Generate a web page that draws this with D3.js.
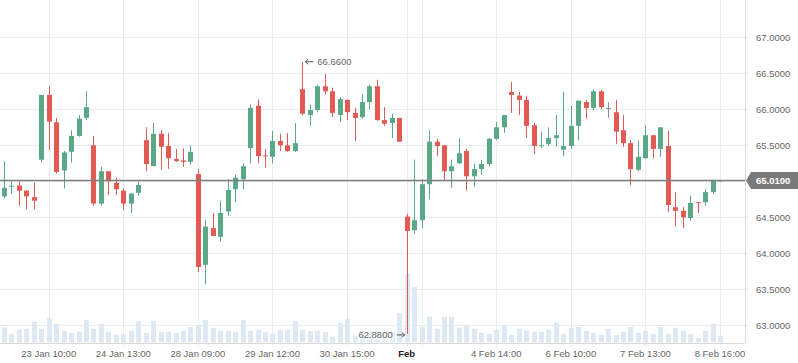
<!DOCTYPE html>
<html><head><meta charset="utf-8">
<script src="https://cdn.jsdelivr.net/npm/d3@7"></script>
<style>html,body{margin:0;padding:0;background:#fff;}svg{display:block;}</style>
</head><body><svg id="c" width="798" height="363"></svg>
<script>
const open  = [64.79,64.93,64.94,64.87,64.78,65.30,66.20,65.82,65.15,65.41,65.63,65.88,65.50,64.69,65.14,64.98,64.87,64.69,64.84,65.57,65.21,65.66,65.49,65.31,65.29,65.27,65.10,63.84,64.35,64.23,64.58,64.89,65.03,65.46,66.05,65.36,65.34,65.56,65.50,65.42,66.28,65.92,65.99,66.32,66.25,65.92,66.13,65.95,65.89,66.10,66.32,65.85,65.81,65.88,64.51,64.32,64.46,64.96,65.55,65.50,65.14,65.25,65.42,65.07,65.17,65.24,65.59,65.75,66.24,66.19,66.13,65.78,65.49,65.52,65.60,65.44,65.49,65.77,66.10,66.02,66.25,66.02,65.96,65.71,65.53,65.16,65.32,65.64,65.45,65.49,64.64,64.59,64.49,64.71,64.71,64.85,65.01];
const high  = [65.28,65.00,65.00,64.88,64.98,66.20,66.32,65.88,65.42,65.71,65.92,66.25,65.63,65.20,65.14,65.05,64.90,64.83,65.00,65.75,65.81,65.71,65.67,65.45,65.46,65.50,65.17,64.46,64.56,64.73,65.03,65.09,65.25,66.07,66.14,65.45,65.70,65.66,65.67,65.81,66.66,66.06,66.34,66.49,66.30,66.17,66.14,66.02,66.21,66.34,66.41,66.03,65.94,65.88,64.55,65.30,65.03,65.71,65.59,65.50,65.30,65.60,65.45,65.25,65.30,65.60,65.82,65.92,66.38,66.24,66.19,65.81,65.69,65.75,65.92,66.24,66.05,66.12,66.13,66.28,66.27,66.10,66.13,65.92,65.57,65.57,65.78,65.64,65.75,65.70,64.85,64.64,64.80,64.71,64.89,65.02,65.01];
const low   = [64.76,64.82,64.66,64.61,64.61,65.26,65.43,65.11,64.90,65.26,65.62,65.85,64.66,64.66,64.81,64.81,64.60,64.56,64.80,65.14,65.21,65.16,65.17,65.27,65.20,65.23,63.74,63.57,64.24,64.17,64.52,64.71,64.89,65.25,65.25,65.19,65.25,65.42,65.41,65.41,65.92,65.77,65.96,66.21,65.89,65.82,65.85,65.56,65.87,66.00,65.84,65.77,65.60,65.55,62.88,64.27,64.35,64.75,65.35,65.02,64.91,65.24,64.87,64.92,65.09,65.21,65.57,65.67,65.95,65.92,65.60,65.38,65.46,65.49,65.48,65.35,65.45,65.57,65.87,65.99,66.00,65.88,65.52,65.48,64.95,65.14,65.32,65.32,65.34,64.57,64.37,64.35,64.45,64.56,64.66,64.82,65.01];
const close = [64.91,64.94,64.87,64.79,64.73,66.20,65.83,65.13,65.40,65.63,65.87,66.03,64.69,65.14,65.00,64.89,64.69,64.83,64.95,65.24,65.66,65.48,65.32,65.28,65.27,65.41,63.81,64.37,64.24,64.56,64.88,65.05,65.21,66.02,65.35,65.35,65.56,65.50,65.42,65.53,65.94,65.99,66.32,66.25,65.95,66.14,65.96,65.88,66.10,66.32,65.85,65.80,65.88,65.55,64.31,64.46,64.96,65.55,65.49,65.14,65.21,65.39,65.07,65.17,65.24,65.59,65.75,65.92,66.20,66.13,65.77,65.49,65.50,65.60,65.64,65.49,65.77,66.12,66.02,66.25,66.03,66.02,65.69,65.53,65.17,65.34,65.64,65.45,65.75,64.67,64.59,64.50,64.70,64.70,64.85,65.02,65.01];
const volume = [1500,870,1270,1370,2070,1370,2470,1870,1170,970,1070,2270,1370,1870,1070,770,870,1170,2170,970,2170,1070,1070,970,1170,1570,1770,2270,1470,1170,1170,1070,2270,1170,1270,1070,870,1270,1270,2170,1270,1170,1170,1070,570,1970,2370,670,1270,1170,1170,1170,1170,2950,6870,5570,1600,2600,1380,2600,2600,1480,1770,1380,970,870,1270,1770,770,1380,1200,1080,1080,1270,1980,870,1470,1570,1170,970,770,1370,770,1070,1570,970,1170,870,1570,870,1470,1170,870,470,1170,1870,670];
const priceTicks = [63.0,63.5,64.0,64.5,65.0,65.5,66.0,66.5,67.0];
const tickIndex  = [6,16,26,36,46,54,56,66,76,86,96];
const tickLabels = ["23 Jan 10:00","24 Jan 13:00","28 Jan 09:00","29 Jan 12:00","30 Jan 15:00","Feb","","4 Feb 14:00","6 Feb 10:00","7 Feb 13:00","8 Feb 16:00"];
const lastPrice = 65.01;
const maxPrice = 66.66, maxIdx = 40;
const minPrice = 62.88, minIdx = 54;

const svg = d3.select("#c");
const W = 798, H = 363, plotR = 745, plotB = 342.5;
const x = d3.scaleLinear().domain([0, 96]).range([3.95, 720]);
const y = d3.scaleLinear().domain([63, 67]).range([325.3, 37.3]);
const vy = d3.scaleLinear().domain([0, d3.max(volume)]).range([plotB, plotB - 68.7]);
const fmt = d3.format(".4f");
const FONT = "'Liberation Sans', Arial, sans-serif";
const green = "#5aa886", red = "#e15a53", dojiC = "#8c8c8c", gridC = "#e9ecf0";
const px = i => Math.round(x(i));

// grid
const g = svg.append("g");
g.selectAll(".hg").data(priceTicks).enter().append("line")
  .attr("x1", 0).attr("x2", plotR + 4)
  .attr("y1", d => Math.round(y(d)) + 0.5).attr("y2", d => Math.round(y(d)) + 0.5)
  .attr("stroke", gridC).attr("stroke-width", 1);
g.selectAll(".vg").data(tickIndex).enter().append("line")
  .attr("x1", d => px(d) + 0.5).attr("x2", d => px(d) + 0.5)
  .attr("y1", 0).attr("y2", plotB + 4)
  .attr("stroke", gridC).attr("stroke-width", 1);

// volume
const idx = d3.range(open.length);
svg.append("g").selectAll("rect").data(idx).enter().append("rect")
  .attr("x", i => px(i) - 2).attr("width", 5)
  .attr("y", i => vy(volume[i])).attr("height", i => plotB - vy(volume[i]))
  .attr("fill", "#dee9f3");

// axes lines
svg.append("line").attr("x1", plotR + 0.5).attr("x2", plotR + 0.5).attr("y1", 0).attr("y2", plotB)
  .attr("stroke", "#d9d9d9");
svg.append("line").attr("x1", 0).attr("x2", plotR).attr("y1", Math.round(plotB) + 0.5).attr("y2", Math.round(plotB) + 0.5)
  .attr("stroke", "#d9d9d9");

// y labels
svg.append("g").selectAll("text").data(priceTicks).enter().append("text")
  .attr("x", 756).attr("y", d => y(d)).attr("dy", "0.35em")
  .attr("font-family", FONT).attr("font-size", 9.5).attr("fill", "#666")
  .text(d => fmt(d));

// x labels
svg.append("g").selectAll("text").data(tickIndex).enter().append("text")
  .attr("x", d => x(d)).attr("y", 354).attr("dy", "0.35em").attr("text-anchor", "middle")
  .attr("font-family", FONT).attr("font-size", 9.5)
  .attr("fill", (d, k) => tickLabels[k] === "Feb" ? "#222" : "#666")
  .attr("font-weight", (d, k) => tickLabels[k] === "Feb" ? "bold" : "normal")
  .text((d, k) => tickLabels[k]);

// candles
const col = i => close[i] > open[i] ? green : (close[i] < open[i] ? red : dojiC);
const cg = svg.append("g");
cg.selectAll("line").data(idx).enter().append("line")
  .attr("x1", i => px(i) + 0.5).attr("x2", i => px(i) + 0.5)
  .attr("y1", i => y(high[i])).attr("y2", i => y(low[i]))
  .attr("stroke", col).attr("stroke-width", 1);
cg.selectAll("rect").data(idx).enter().append("rect")
  .attr("x", i => px(i) - 2).attr("width", 5)
  .attr("y", i => y(Math.max(open[i], close[i])))
  .attr("height", i => Math.max(1, y(Math.min(open[i], close[i])) - y(Math.max(open[i], close[i]))))
  .attr("fill", col);

// last price line
const ly = y(lastPrice);
svg.append("line").attr("x1", 0).attr("x2", plotR).attr("y1", ly).attr("y2", ly)
  .attr("stroke", "#7f7f7f").attr("stroke-width", 1.5);
svg.append("path")
  .attr("d", `M${plotR + 1},${ly} L${plotR + 6},${ly - 8.5} L${W},${ly - 8.5} L${W},${ly + 8.5} L${plotR + 6},${ly + 8.5} Z`)
  .attr("fill", "#7a7a7a");
svg.append("text").attr("x", 756).attr("y", ly).attr("dy", "0.35em")
  .attr("font-family", FONT).attr("font-size", 9.5).attr("font-weight", "bold").attr("fill", "#fff")
  .text(fmt(lastPrice));

// annotations
function arrow(x1, x2, yy, dir) {
  svg.append("line").attr("x1", x1).attr("x2", x2).attr("y1", yy).attr("y2", yy).attr("stroke", "#555").attr("stroke-width", 1);
  const tip = dir < 0 ? x1 : x2;
  svg.append("path").attr("d", `M${tip - dir * 3},${yy - 2.5} L${tip},${yy} L${tip - dir * 3},${yy + 2.5}`)
    .attr("fill", "none").attr("stroke", "#555").attr("stroke-width", 1);
}
const hx = x(maxIdx), hy = y(maxPrice);
arrow(hx + 3, hx + 11, hy, -1);
svg.append("text").attr("x", hx + 15).attr("y", hy).attr("dy", "0.35em")
  .attr("font-family", FONT).attr("font-size", 9.5).attr("fill", "#666").text(fmt(maxPrice));
const lx = x(minIdx), lyy = y(minPrice);
const bgRect = svg.append("rect");
const lt = svg.append("text").attr("x", lx - 14).attr("y", lyy + 1).attr("dy", "0.35em").attr("text-anchor", "end")
  .attr("font-family", FONT).attr("font-size", 9.5).attr("fill", "#666").text(fmt(minPrice));
const bb = lt.node().getBBox();
bgRect.attr("x", bb.x - 1).attr("y", bb.y).attr("width", bb.width + 2).attr("height", bb.height)
  .attr("fill", "#fff").attr("fill-opacity", 0.5);
arrow(lx - 10, lx - 2, lyy + 1, 1);
</script></body></html>
